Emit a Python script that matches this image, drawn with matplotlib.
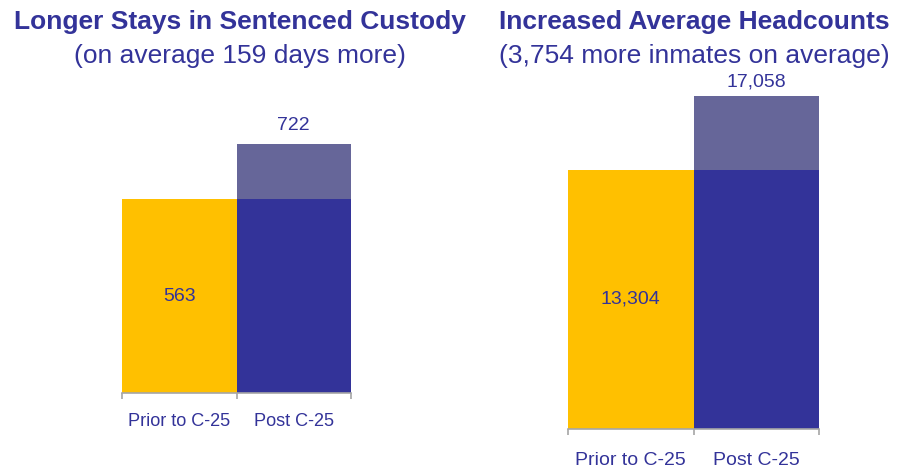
import matplotlib.pyplot as plt
from matplotlib.transforms import blended_transform_factory

plt.rcParams['font.family'] = ['Liberation Sans', 'DejaVu Sans']

categories = ['Prior to C-25', 'Post C-25']
stay_days = [563, 722]
headcounts = [13304, 17058]
stay_labels = ['563', '722']
head_labels = ['13,304', '17,058']

YELLOW = '#FFC000'
BLUE = '#333399'
LIGHT = '#666699'
TXT = '#333399'
GRAY = '#A6A6A6'

W, H = 899, 468
fig = plt.figure(figsize=(W / 100, H / 100), dpi=100)


def panel(x0, x1, base, top, values, labels, title, subtitle, tx, cat_y, cat_size, top_gap):
    ax = fig.add_axes([x0 / W, (H - base) / H, (x1 - x0) / W, (base - top) / H])
    prior, post = values
    ax.bar(0, prior, width=1, align='edge', color=YELLOW)
    ax.bar(1, prior, width=1, align='edge', color=BLUE)
    ax.bar(1, post - prior, bottom=prior, width=1, align='edge', color=LIGHT)
    ax.set_xlim(0, 2)
    ax.set_ylim(0, post)
    for s in ['top', 'right', 'left']:
        ax.spines[s].set_visible(False)
    ax.spines['bottom'].set_color(GRAY)
    ax.spines['bottom'].set_linewidth(1.2)
    ax.set_yticks([])
    ax.set_xticks([0, 1, 2])
    ax.set_xticklabels([])
    ax.tick_params(axis='x', length=4, color=GRAY, width=1.2)

    # category labels under the bars (x in data, y in figure coords)
    trans = blended_transform_factory(ax.transData, fig.transFigure)
    for i, c in enumerate(categories):
        ax.text(i + 0.5, 1 - cat_y / H, c, ha='center', va='baseline',
                fontsize=cat_size, color=TXT, transform=trans)

    ax.text(0.5, prior / 2, labels[0], ha='center', va='center', fontsize=14, color=TXT)
    ax.annotate(labels[1], (1.5, post), xytext=(0, top_gap), textcoords='offset pixels',
                ha='center', va='baseline', fontsize=14, color=TXT, annotation_clip=False)

    fig.text(tx / W, 1 - 28.5 / H, title, ha='center', va='baseline', fontsize=19,
             fontweight='bold', color=TXT)
    fig.text(tx / W, 1 - 62.5 / H, subtitle, ha='center', va='baseline', fontsize=19, color=TXT)
    return ax


panel(122, 351, 393, 144.3, stay_days, stay_labels,
      'Longer Stays in Sentenced Custody', '(on average 159 days more)', 240, 425.7, 13.1, 14)
panel(568, 819, 429, 96.5, headcounts, head_labels,
      'Increased Average Headcounts', '(3,754 more inmates on average)', 694, 465, 14, 9.5)

fig.savefig('out.png', dpi=100)
